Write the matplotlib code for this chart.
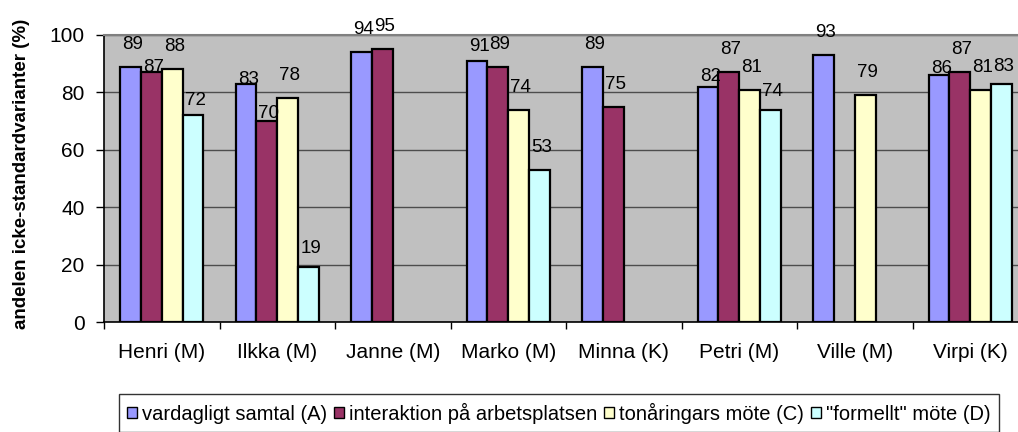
import numpy as np
import matplotlib
matplotlib.use("Agg")
import matplotlib.pyplot as plt

plt.rcParams['font.family'] = ['Liberation Sans', 'DejaVu Sans']

# data (nan = no bar)
speakers = ["Henri (M)", "Ilkka (M)", "Janne (M)", "Marko (M)",
            "Minna (K)", "Petri (M)", "Ville (M)", "Virpi (K)"]
vardagligt = [89, 83, 94, 91, 89, 82, 93, 86]
interaktion = [87, 70, 95, 89, 75, 87, np.nan, 87]
tonaringar = [88, 78, np.nan, 74, np.nan, 81, 79, 81]
formellt = [72, 19, np.nan, 53, np.nan, 74, np.nan, 83]
series_names = ["vardagligt samtal (A)", "interaktion på arbetsplatsen",
                "tonåringars möte (C)", "\"formellt\" möte (D)"]
colors = ["#9999FF", "#993366", "#FFFFCC", "#CCFFFF"]

series = [vardagligt, interaktion, tonaringar, formellt]

# gap (px) between bar top and label baseline; some labels sit lower
label_gap = np.full((len(speakers), 4), 18.0)
lowered = {(0, 1): 0, (0, 3): 10, (1, 0): 0, (1, 1): 3, (1, 3): 14,
           (3, 0): 10, (5, 0): 6, (5, 3): 14, (7, 0): 2, (7, 3): 13}
for k, g in lowered.items():
    label_gap[k] = g

fig = plt.figure(figsize=(10.18, 4.32), dpi=100)
ax = fig.add_axes([104/1018, 110/432, 924/1018, 287/432])
ax.set_facecolor("#C0C0C0")

x = np.arange(len(speakers))
w = 0.18
for i, vals in enumerate(series):
    pos = x + (i - 1.5) * w
    ax.bar(pos, vals, width=w, color=colors[i], edgecolor="black",
           linewidth=1.6, label=series_names[i], zorder=3)
    for j, (px, v) in enumerate(zip(pos, vals)):
        if not np.isnan(v):
            ax.annotate("%d" % v, (px, v), xytext=(1.5, label_gap[j, i] * 0.72),
                        textcoords="offset points", ha="center", va="baseline",
                        fontsize=13.5, zorder=4, annotation_clip=False)

ax.set_ylim(0, 100)
ax.set_xlim(-0.5, len(speakers) - 0.5)
ax.set_yticks(np.arange(0, 101, 20))
ax.yaxis.grid(True, color="#4d4d4d", linewidth=1.0, zorder=0)
ax.set_axisbelow(True)

# ticks at group boundaries, labels at group centres
ax.set_xticks(np.arange(-0.5, len(speakers), 1.0))
ax.set_xticklabels([])
ax.set_xticks(x, minor=True)
ax.set_xticklabels(speakers, minor=True, fontsize=15)
ax.tick_params(axis="x", which="major", length=5, width=1, direction="out")
ax.tick_params(axis="x", which="minor", length=0, pad=15)
ax.tick_params(axis="y", length=6, width=1, pad=8, labelsize=15)

for s in ["left", "bottom"]:
    ax.spines[s].set_color("black")
    ax.spines[s].set_linewidth(1.2)
ax.spines["top"].set_color("#808080")
ax.spines["top"].set_linewidth(1.5)
ax.spines["right"].set_visible(False)

fig.text(0.021, 1 - 174/432, "andelen icke-standardvarianter (%)", rotation=90,
         ha="center", va="center", fontsize=13.5, fontweight="bold")

leg = fig.legend(loc="center", bbox_to_anchor=(0.549, 0.044), ncol=4,
                 fontsize=14.5, frameon=True, fancybox=False,
                 handlelength=0.5, handleheight=0.5, handletextpad=0.25,
                 columnspacing=0.35, borderpad=0.4)
leg.get_frame().set_edgecolor("black")
leg.get_frame().set_linewidth(1.0)
for h in leg.legend_handles:
    h.set_linewidth(1.0)

fig.savefig("out.png", dpi=100)
